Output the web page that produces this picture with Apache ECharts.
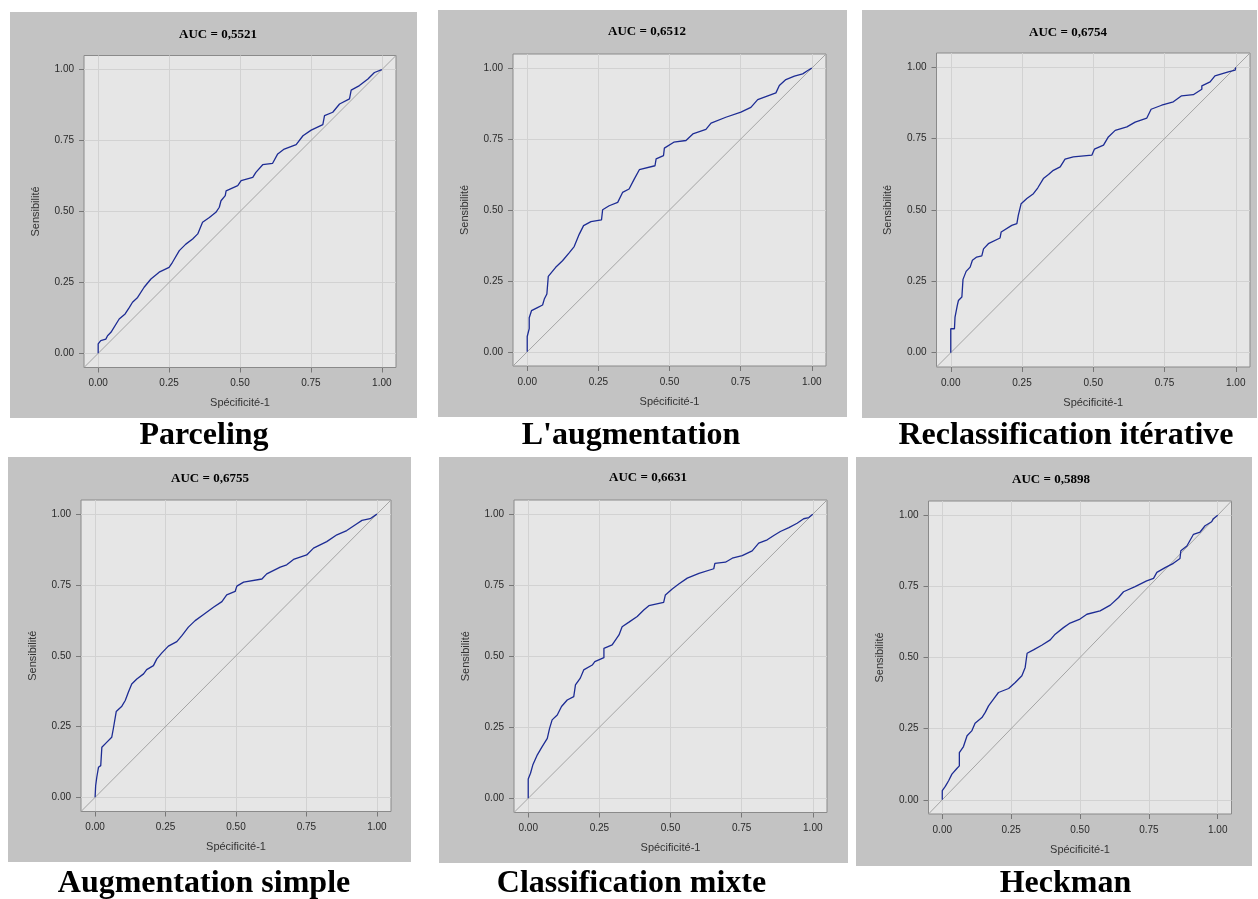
<!DOCTYPE html>
<html>
<head>
<meta charset="utf-8">
<script src="https://cdn.jsdelivr.net/npm/echarts@6/dist/echarts.min.js"></script>
<style>
  html, body { margin: 0; padding: 0; background: #fff; }
  #main { width: 1258px; height: 899px; }
</style>
</head>
<body>
<div id="main"></div>
<script>
var tickValues = [0, 0.25, 0.5, 0.75, 1];
var diagonal = [[-0.05, -0.05], [1.05, 1.05]];
var methodNames = ['Parceling', "L'augmentation", 'Reclassification itérative',
                   'Augmentation simple', 'Classification mixte', 'Heckman'];
var aucTitles = ['AUC = 0,5521', 'AUC = 0,6512', 'AUC = 0,6754',
                 'AUC = 0,6755', 'AUC = 0,6631', 'AUC = 0,5898'];

var rocParceling = [[0,0],[0,0.033],[0.009,0.045],[0.027,0.05],[0.033,0.062],[0.045,0.074],
  [0.074,0.121],[0.095,0.139],[0.11,0.162],[0.121,0.18],[0.139,0.197],[0.162,0.233],
  [0.186,0.262],[0.215,0.286],[0.25,0.303],[0.262,0.321],[0.286,0.362],[0.309,0.385],
  [0.333,0.403],[0.351,0.421],[0.368,0.462],[0.392,0.479],[0.415,0.497],[0.427,0.515],
  [0.433,0.538],[0.448,0.556],[0.451,0.573],[0.492,0.591],[0.504,0.609],[0.545,0.62],
  [0.556,0.638],[0.58,0.665],[0.615,0.67],[0.633,0.703],[0.656,0.72],[0.698,0.736],
  [0.722,0.767],[0.751,0.787],[0.792,0.806],[0.798,0.838],[0.827,0.85],[0.851,0.879],
  [0.886,0.897],[0.892,0.928],[0.921,0.944],[0.951,0.967],[0.974,0.99],[1,1]];

var rocAugmentation = [[0,0],[0,0.054],[0.007,0.082],[0.007,0.12],[0.015,0.145],[0.036,0.156],
  [0.054,0.165],[0.06,0.186],[0.069,0.204],[0.074,0.204],[0.074,0.266],[0.1,0.298],
  [0.124,0.321],[0.148,0.35],[0.165,0.371],[0.183,0.415],[0.198,0.445],[0.224,0.459],
  [0.261,0.465],[0.265,0.501],[0.288,0.515],[0.318,0.527],[0.335,0.562],[0.358,0.574],
  [0.376,0.609],[0.394,0.642],[0.449,0.656],[0.453,0.68],[0.479,0.692],[0.482,0.718],
  [0.515,0.739],[0.558,0.745],[0.582,0.768],[0.628,0.784],[0.646,0.806],[0.698,0.827],
  [0.751,0.845],[0.786,0.862],[0.81,0.889],[0.874,0.913],[0.886,0.939],[0.909,0.96],
  [0.939,0.972],[0.968,0.98],[0.986,0.992],[1,1]];

var rocReclassification = [[0,0],[0,0.084],[0.013,0.084],[0.015,0.125],[0.023,0.166],[0.027,0.183],
  [0.039,0.195],[0.043,0.257],[0.054,0.285],[0.068,0.3],[0.076,0.324],[0.091,0.335],
  [0.109,0.339],[0.115,0.364],[0.132,0.382],[0.173,0.402],[0.177,0.423],[0.214,0.446],
  [0.232,0.452],[0.237,0.481],[0.247,0.522],[0.267,0.54],[0.29,0.557],[0.305,0.577],
  [0.325,0.61],[0.343,0.624],[0.36,0.639],[0.384,0.651],[0.401,0.678],[0.43,0.686],
  [0.495,0.692],[0.504,0.713],[0.536,0.727],[0.553,0.756],[0.577,0.779],[0.618,0.791],
  [0.647,0.808],[0.688,0.822],[0.703,0.853],[0.74,0.867],[0.781,0.879],[0.81,0.9],
  [0.851,0.904],[0.881,0.923],[0.881,0.935],[0.91,0.949],[0.927,0.97],[0.974,0.984],
  [0.998,0.99],[1,1]];

var rocAugmentationSimple = [[0,0],[0.002,0.041],[0.006,0.071],[0.012,0.106],[0.02,0.112],[0.024,0.177],
  [0.041,0.194],[0.059,0.212],[0.065,0.244],[0.075,0.303],[0.095,0.322],[0.107,0.342],
  [0.118,0.371],[0.13,0.4],[0.148,0.418],[0.172,0.436],[0.183,0.451],[0.207,0.465],
  [0.219,0.489],[0.237,0.51],[0.26,0.534],[0.29,0.55],[0.308,0.571],[0.331,0.601],
  [0.355,0.624],[0.385,0.646],[0.42,0.671],[0.45,0.691],[0.467,0.715],[0.497,0.727],
  [0.503,0.746],[0.527,0.76],[0.592,0.771],[0.609,0.789],[0.657,0.813],[0.68,0.821],
  [0.704,0.84],[0.751,0.856],[0.775,0.88],[0.822,0.903],[0.858,0.927],[0.893,0.942],
  [0.929,0.966],[0.947,0.978],[0.976,0.984],[1,1]];

var rocClassificationMixte = [[0,0],[0,0.068],[0.008,0.088],[0.016,0.117],[0.032,0.153],[0.049,0.182],
  [0.067,0.211],[0.075,0.246],[0.084,0.276],[0.102,0.293],[0.117,0.323],[0.137,0.346],
  [0.16,0.358],[0.166,0.399],[0.183,0.423],[0.195,0.452],[0.225,0.469],[0.234,0.481],
  [0.266,0.495],[0.266,0.528],[0.295,0.54],[0.319,0.575],[0.33,0.604],[0.354,0.62],
  [0.383,0.64],[0.406,0.663],[0.424,0.678],[0.476,0.69],[0.482,0.716],[0.506,0.737],
  [0.529,0.754],[0.559,0.775],[0.6,0.792],[0.652,0.808],[0.656,0.827],[0.693,0.831],
  [0.717,0.845],[0.752,0.854],[0.787,0.871],[0.81,0.898],[0.84,0.91],[0.863,0.925],
  [0.886,0.939],[0.916,0.953],[0.945,0.968],[0.968,0.984],[0.986,0.988],[1,1]];

var rocHeckman = [[0,0],[0,0.032],[0.011,0.047],[0.023,0.067],[0.035,0.09],[0.053,0.11],
  [0.062,0.119],[0.062,0.166],[0.077,0.187],[0.09,0.225],[0.107,0.242],[0.119,0.269],
  [0.144,0.289],[0.156,0.307],[0.168,0.33],[0.186,0.354],[0.204,0.377],[0.241,0.391],
  [0.265,0.412],[0.289,0.436],[0.301,0.465],[0.308,0.515],[0.331,0.527],[0.361,0.543],
  [0.392,0.562],[0.41,0.582],[0.44,0.605],[0.464,0.621],[0.5,0.635],[0.525,0.652],
  [0.573,0.664],[0.61,0.684],[0.64,0.711],[0.658,0.731],[0.7,0.749],[0.742,0.769],
  [0.767,0.778],[0.779,0.799],[0.809,0.816],[0.839,0.831],[0.863,0.848],[0.866,0.875],
  [0.888,0.892],[0.912,0.933],[0.936,0.941],[0.954,0.963],[0.978,0.977],[0.984,0.988],[1,1]];

var rocCurves = [rocParceling, rocAugmentation, rocReclassification,
                 rocAugmentationSimple, rocClassificationMixte, rocHeckman];

// mise en page des 6 panneaux
var panels = [
  {bg: [10, 12, 407, 406],  grid: [84, 55.5, 312, 312],   title: [218, 35],   label: [204, 436]},
  {bg: [438, 10, 409, 407], grid: [513, 54, 313, 312],    title: [647, 32],   label: [631, 436]},
  {bg: [862, 10, 395, 408], grid: [936.5, 53, 313.5, 314], title: [1068, 33], label: [1066, 436]},
  {bg: [8, 457, 403, 405],  grid: [81, 500, 310, 311.5],  title: [210, 479],  label: [204, 884]},
  {bg: [439, 457, 409, 406], grid: [514, 500, 313, 312.5], title: [648, 478], label: [631.5, 884]},
  {bg: [856, 457, 396, 409], grid: [928.5, 501, 303, 313], title: [1051, 480], label: [1065.5, 884]}
];

var sansFont = 'Liberation Sans, Arial, sans-serif';
var serifFont = 'Liberation Serif, Times New Roman, serif';

var grids = [], xAxes = [], yAxes = [], series = [], graphics = [];

function fmt(v) { return v.toFixed(2); }

for (var i = 0; i < panels.length; i++) {
  var p = panels[i];
  graphics.push({
    type: 'rect', z: -10, silent: true,
    shape: {x: p.bg[0], y: p.bg[1], width: p.bg[2], height: p.bg[3]},
    style: {fill: '#c3c3c3'}
  });
  graphics.push({
    type: 'text', z: 10, x: p.title[0], y: p.title[1],
    style: {text: aucTitles[i], fill: '#000', font: 'bold 13px ' + serifFont,
            align: 'center', verticalAlign: 'middle'}
  });
  graphics.push({
    type: 'text', z: 10, x: p.label[0], y: p.label[1],
    style: {text: methodNames[i], fill: '#000', font: 'bold 32px ' + serifFont,
            align: 'center', verticalAlign: 'middle'}
  });

  grids.push({
    left: p.grid[0], top: p.grid[1], width: p.grid[2], height: p.grid[3],
    show: true, backgroundColor: '#e6e6e6', borderColor: '#8a8a8a', borderWidth: 1
  });

  var axisCommon = {
    gridIndex: i, type: 'value', min: -0.05, max: 1.05,
    nameLocation: 'middle',
    nameTextStyle: {fontSize: 11, color: '#333', fontFamily: sansFont},
    axisLine: {show: false, onZero: false},
    axisTick: {show: true, length: 5, inside: false, customValues: tickValues,
               lineStyle: {color: '#777'}},
    axisLabel: {customValues: tickValues, fontSize: 10, color: '#2a2a2a',
                fontFamily: sansFont, formatter: fmt},
    splitLine: {show: true, lineStyle: {color: '#d2d2d2', width: 1}}
  };
  xAxes.push(Object.assign({}, axisCommon, {
    position: 'bottom',
    name: 'Spécificité-1', nameGap: 30,
    axisLabel: Object.assign({}, axisCommon.axisLabel, {margin: 11})
  }));
  yAxes.push(Object.assign({}, axisCommon, {
    position: 'left',
    name: 'Sensibilité', nameGap: 43,
    axisLabel: Object.assign({}, axisCommon.axisLabel, {margin: 10})
  }));

  series.push({
    type: 'line', xAxisIndex: i, yAxisIndex: i, data: diagonal,
    showSymbol: false, silent: true, z: 2,
    lineStyle: {color: '#a4a4a4', width: 1}
  });
  series.push({
    type: 'line', xAxisIndex: i, yAxisIndex: i, data: rocCurves[i],
    showSymbol: false, silent: true, z: 3,
    lineStyle: {color: '#1d2c94', width: 1.3}
  });
}

var myChart = echarts.init(document.getElementById('main'));
myChart.setOption({
  animation: false,
  backgroundColor: '#ffffff',
  grid: grids,
  xAxis: xAxes,
  yAxis: yAxes,
  series: series,
  graphic: graphics
});
</script>
</body>
</html>
